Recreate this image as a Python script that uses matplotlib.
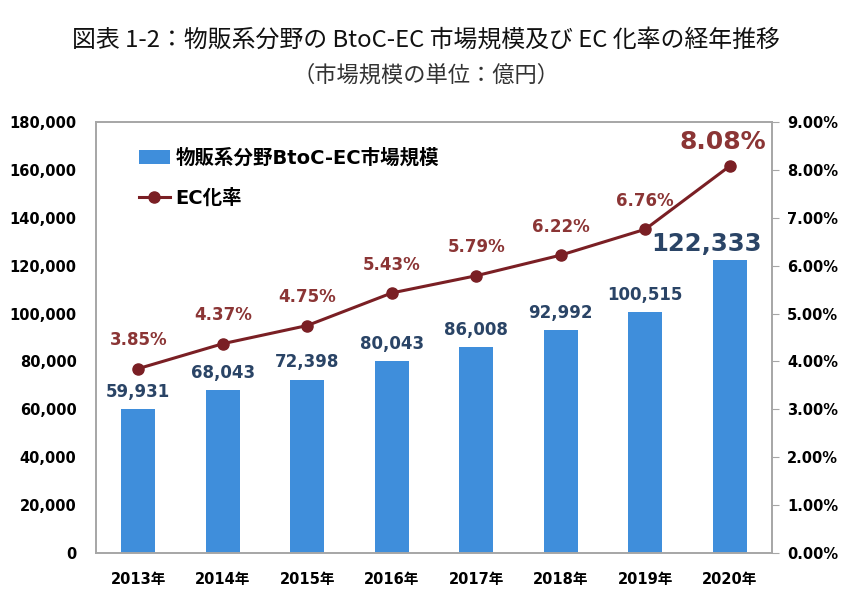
import matplotlib
matplotlib.use("Agg")
import matplotlib.pyplot as plt
from matplotlib.ticker import FuncFormatter
import numpy as np

plt.rcParams['font.family'] = ['DejaVu Sans', 'Noto Sans CJK JP']

years = ["2013年", "2014年", "2015年", "2016年", "2017年", "2018年", "2019年", "2020年"]
market = [59931, 68043, 72398, 80043, 86008, 92992, 100515, 122333]
ec_rate = [3.85, 4.37, 4.75, 5.43, 5.79, 6.22, 6.76, 8.08]

title = "図表 1-2：物販系分野の BtoC-EC 市場規模及び EC 化率の経年推移"
subtitle = "（市場規模の単位：億円）"
bar_label = "物販系分野BtoC-EC市場規模"
line_label = "EC化率"

bar_color = "#3F8EDB"
line_color = "#7A1F24"
pct_color = "#8B3535"
val_color = "#2A4466"
spine_color = "#A6A6A6"

fig = plt.figure(figsize=(8.52, 6.06), dpi=100)
ax = fig.add_axes([96/852, 1-553/606, (772-96)/852, (553-122)/606])
ax2 = ax.twinx()

x = np.arange(len(years))
ax.bar(x, market, width=0.4, color=bar_color, label=bar_label, zorder=1)
ax2.plot(x, ec_rate, color=line_color, lw=2.2, marker='o', ms=8, label=line_label, zorder=3)

ax.set_xlim(-0.5, len(years)-0.5)
ax.set_ylim(0, 180000)
ax2.set_ylim(0, 9)
ax.set_yticks(np.arange(0, 180001, 20000))
ax2.set_yticks(np.arange(0, 9.01, 1))
ax.yaxis.set_major_formatter(FuncFormatter(lambda v, p: f"{int(v):,}"))
ax2.yaxis.set_major_formatter(FuncFormatter(lambda v, p: f"{v:.2f}%"))
ax.set_xticks(x)
ax.set_xticklabels(years, family=['DejaVu Sans', 'Noto Sans CJK JP'], fontweight='bold', fontsize=10.5)

for a in (ax, ax2):
    for s in a.spines.values():
        s.set_color(spine_color)
        s.set_linewidth(1.2)
ax.tick_params(axis='y', length=0, pad=14, labelsize=10.5)
ax.tick_params(axis='x', length=0, pad=14)
ax2.tick_params(axis='y', length=5, color=spine_color, pad=6, labelsize=10.5)
for lab in ax.get_yticklabels() + ax2.get_yticklabels():
    lab.set_fontweight('bold')

# bar value labels
for i, v in enumerate(market):
    if i == len(market) - 1:
        ax.annotate(f"{v:,}", (x[i], v), xytext=(-17, 3), textcoords='offset points',
                    ha='center', va='bottom', fontsize=17.5, color=val_color, fontweight='bold')
    else:
        ax.annotate(f"{v:,}", (x[i], v), xytext=(0, 6), textcoords='offset points',
                    ha='center', va='bottom', fontsize=12, color=val_color, fontweight='bold')

# rate labels
for i, r in enumerate(ec_rate):
    if i == len(ec_rate) - 1:
        ax2.annotate(f"{r:.2f}%", (x[i], r), xytext=(-5, 9), textcoords='offset points',
                     ha='center', va='bottom', fontsize=18, color=pct_color, fontweight='bold')
    else:
        ax2.annotate(f"{r:.2f}%", (x[i], r), xytext=(0, 14), textcoords='offset points',
                     ha='center', va='bottom', fontsize=12, color=pct_color, fontweight='bold')

h1, l1 = ax.get_legend_handles_labels()
h2, l2 = ax2.get_legend_handles_labels()
leg = ax.legend(h1 + h2, l1 + l2, loc='upper left', bbox_to_anchor=(0.037, 0.98),
                frameon=False, labelspacing=1.1, handlelength=1.6, handletextpad=0.3,
                prop={'family': ['DejaVu Sans', 'Noto Sans CJK JP'], 'weight': 'bold', 'size': 14})

fig.text(0.5, 1-40/606, title, ha='center', va='center', fontsize=17.2,
         family=['Noto Sans CJK JP', 'DejaVu Sans'], color='#111111')
fig.text(0.5, 1-75/606, subtitle, ha='center', va='center', fontsize=16,
         family=['Noto Sans CJK JP', 'DejaVu Sans'], color='#333333')

fig.savefig("out.png", dpi=100)
